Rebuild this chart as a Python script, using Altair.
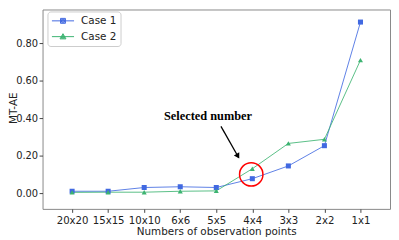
import altair as alt
import pandas as pd

categories = ["20x20", "15x15", "10x10", "6x6", "5x5", "4x4", "3x3", "2x2", "1x1"]
series_names = ["Case 1", "Case 2"]
case1 = [0.010, 0.010, 0.030, 0.034, 0.030, 0.077, 0.145, 0.253, 0.912]
case2 = [0.004, 0.005, 0.005, 0.010, 0.012, 0.130, 0.265, 0.287, 0.709]
colors = ["#4169E1", "#3CB371"]
y_ticks = [0.0, 0.2, 0.4, 0.6, 0.8]

# annotation (positions in category-index / value units)
ann_text = "Selected number"
ann_text_pos = (3.77, 0.41)
arrow_start = (4.13, 0.356)
arrow_end = (4.62, 0.19)
arrow_head = (4.60, 0.197)
circle_pos = (4.97, 0.10)

rows = []
for i, c in enumerate(categories):
    rows.append({"cat": c, "series": series_names[0], "value": case1[i]})
    rows.append({"cat": c, "series": series_names[1], "value": case2[i]})
df = pd.DataFrame(rows)

xscale = alt.Scale(type="point", padding=0.82)
yscale = alt.Scale(domain=[-0.084, 0.979], nice=False, zero=False)

X = alt.X("cat:O", sort=categories, scale=xscale,
          axis=alt.Axis(title="Numbers of observation points", labelAngle=0))
Y = alt.Y("value:Q", scale=yscale,
          axis=alt.Axis(title="MT-AE", values=y_ticks, format=".2f", labelFontSize=10,
                        titleX=-29.5, titleY=99.5, titleAlign="center", titleBaseline="middle",
                        titleAngle=270))
color = alt.Color("series:N", scale=alt.Scale(domain=series_names, range=colors), legend=None)

line = alt.Chart(df).mark_line(strokeWidth=1, opacity=0.85).encode(x=X, y=Y, color=color)
points = alt.Chart(df).mark_point(filled=True, size=26, opacity=1).encode(
    x=X, y=Y, color=color,
    shape=alt.Shape("series:N", scale=alt.Scale(domain=series_names, range=["square", "triangle-up"]), legend=None),
)

legend_paths = [
    "M-1,0H3.48M0.74,-0.5H1.74V0.5H0.74ZM0.94,-0.3H1.54V0.3H0.94ZM1.14,-0.1H1.34V0.1H1.14Z",
    "M-1,0H3.48M1.24,-0.6L1.84,0.45H0.64ZM1.24,-0.32L1.6,0.31H0.88ZM1.24,-0.075L1.39,0.19H1.09Z",
]
leg = alt.Legend(title=None, orient="none", legendX=5, legendY=2, padding=4,
                 symbolSize=100, symbolStrokeWidth=1, labelOffset=19, rowPadding=5,
                 labelFont="DejaVu Sans", labelFontSize=10.5, labelColor="#222",
                 strokeColor="#cccccc", fillColor="white", cornerRadius=3, symbolOpacity=1)
legend_layer = alt.Chart(df).mark_point(opacity=0, filled=False, strokeWidth=1).encode(
    x=X, y=Y,
    color=alt.Color("series:N", scale=alt.Scale(domain=series_names, range=colors), legend=leg),
    shape=alt.Shape("series:N", scale=alt.Scale(domain=series_names, range=legend_paths), legend=leg),
)

main = alt.layer(line, points, legend_layer).resolve_scale(shape="independent", color="independent")

qx = alt.Scale(domain=[-0.82, len(categories) - 1 + 0.82], nice=False, zero=False)

txt_df = pd.DataFrame([{"xi": ann_text_pos[0], "yv": ann_text_pos[1], "t": ann_text}])
text = alt.Chart(txt_df).mark_text(font="Liberation Serif", fontWeight="bold", fontSize=12.5,
                                   color="black", baseline="middle", align="center").encode(
    x=alt.X("xi:Q", scale=qx, axis=None), y=alt.Y("yv:Q", scale=yscale), text="t:N")

arr_df = pd.DataFrame([{"x1": arrow_start[0], "y1": arrow_start[1], "x2": arrow_end[0], "y2": arrow_end[1]}])
arrow = alt.Chart(arr_df).mark_rule(color="black", strokeWidth=1.3).encode(
    x=alt.X("x1:Q", scale=qx, axis=None), y=alt.Y("y1:Q", scale=yscale),
    x2="x2:Q", y2="y2:Q")
head_df = pd.DataFrame([{"xi": arrow_head[0], "yv": arrow_head[1]}])
head = alt.Chart(head_df).mark_point(shape="triangle-up", filled=True, size=40, angle=150,
                                     color="black", opacity=1).encode(
    x=alt.X("xi:Q", scale=qx, axis=None), y=alt.Y("yv:Q", scale=yscale))
circ_df = pd.DataFrame([{"xi": circle_pos[0], "yv": circle_pos[1]}])
circle = alt.Chart(circ_df).mark_point(shape="circle", filled=False, size=560, strokeWidth=1.5,
                                       color="red", opacity=1).encode(
    x=alt.X("xi:Q", scale=qx, axis=None), y=alt.Y("yv:Q", scale=yscale))

annot = alt.layer(text, arrow, head, circle)

chart = alt.layer(main, annot).resolve_scale(x="independent").properties(
    width=352, height=202,
    autosize=alt.AutoSizeParams(type="none"),
    padding={"left": 35, "top": 0, "right": 1, "bottom": 30},
).configure_view(stroke="#888888", strokeWidth=1).configure_axis(
    grid=False, domain=False, tickSize=3.5, tickColor="#444", tickWidth=1,
    labelFont="DejaVu Sans", labelFontSize=10.3, labelColor="#222",
    titleFont="DejaVu Sans", titleFontSize=10.5, titleFontWeight="normal", titleColor="#222",
).configure_axisX(labelPadding=3, titlePadding=1).configure_axisY(labelPadding=1.5)

chart.save("out.html", embed_options={"renderer": "svg", "actions": False})
